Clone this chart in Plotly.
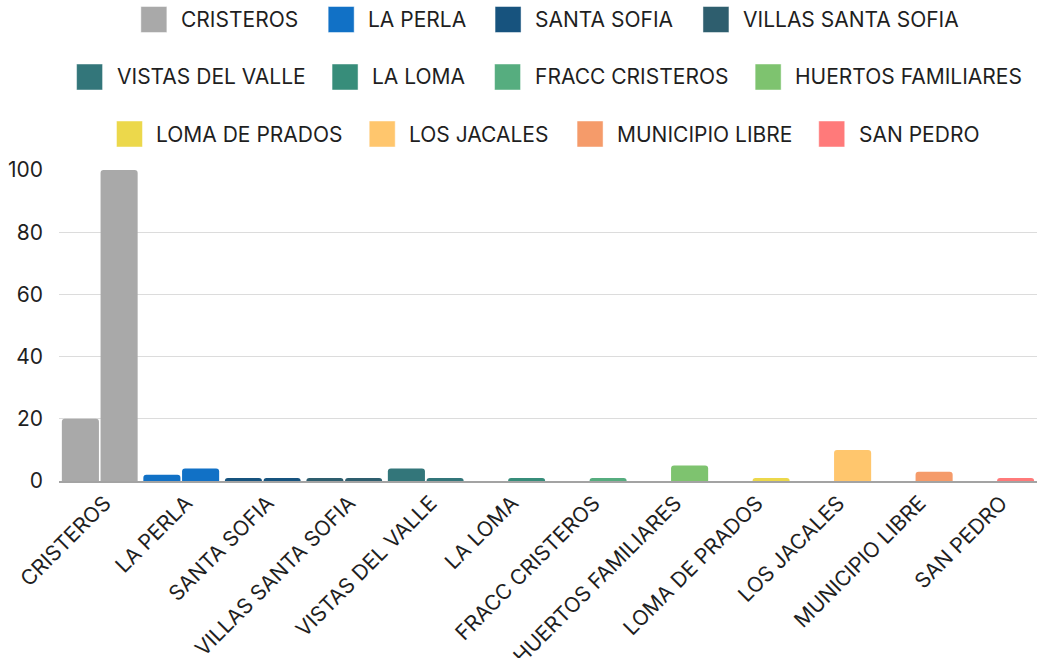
import plotly.graph_objects as go

# ---------------- data ----------------
categories = ["CRISTEROS", "LA PERLA", "SANTA SOFIA", "VILLAS SANTA SOFIA",
              "VISTAS DEL VALLE", "LA LOMA", "FRACC CRISTEROS", "HUERTOS FAMILIARES",
              "LOMA DE PRADOS", "LOS JACALES", "MUNICIPIO LIBRE", "SAN PEDRO"]
first_values = [20, 2, 1, 1, 4, 0, 0, 0, 0, 0, 0, 0]
second_values = [100, 4, 1, 1, 1, 1, 1, 5, 1, 10, 3, 1]
colors = ["#a9a9a9", "#1171c6", "#17537e", "#2e5e6e", "#33767a", "#378d7a",
          "#56ad7f", "#7ec36f", "#ecd84b", "#ffc66d", "#f59b6a", "#ff7a7a"]
y_ticks = [0, 20, 40, 60, 80, 100]
legend_rows = [[0, 1, 2, 3], [4, 5, 6, 7], [8, 9, 10, 11]]

# ---------------- geometry ----------------
W, H = 1038, 658
ML, MR, MT, MB = 59, 1, 169, 177
PW, PH = W - ML - MR, H - MT - MB
FONT = "Inter"
TXT = "#1f1f1f"

fig = go.Figure()
for i, cat in enumerate(categories):
    fig.add_trace(go.Bar(
        x=[cat, cat], y=[first_values[i], second_values[i]],
        offset=[-0.465, 0.01], width=[0.455, 0.455],
        marker=dict(color=colors[i], line=dict(width=0), cornerradius=3),
        name=cat, showlegend=False, hoverinfo="skip",
    ))

# ---------------- custom legend ----------------
EM = {'A': .681, 'B': .646, 'C': .720, 'D': .713, 'E': .578, 'F': .560, 'G': .741,
      'H': .740, 'I': .264, 'J': .524, 'K': .656, 'L': .532, 'M': .882, 'N': .748,
      'O': .764, 'P': .635, 'Q': .764, 'R': .648, 'S': .638, 'T': .635, 'U': .730,
      'V': .681, 'W': 1.0, 'X': .66, 'Y': .66, 'Z': .62, ' ': .25}
FS = 21


def tw(s):
    return sum(EM.get(c, .6) for c in s) * FS * 0.975


SW, GAP_T, GAP_I = 26, 13, 35
row_y = [19.5, 77, 134]
center_x = 545


def px2x(x):
    return (x - ML) / PW


def px2y(y):
    return (MT + PH - y) / PH


shapes, annotations = [], []
for r, row in enumerate(legend_rows):
    widths = [SW + GAP_T + tw(categories[i]) for i in row]
    total = sum(widths) + GAP_I * (len(row) - 1)
    x = center_x - total / 2
    yc = row_y[r]
    for k, i in enumerate(row):
        shapes.append(dict(type="rect", xref="paper", yref="paper",
                           x0=px2x(x), x1=px2x(x + SW),
                           y0=px2y(yc + SW / 2), y1=px2y(yc - SW / 2),
                           fillcolor=colors[i], line=dict(width=0.8, color="rgba(255,255,255,0.6)")))
        annotations.append(dict(xref="paper", yref="paper", x=px2x(x + SW + GAP_T - 1),
                                y=px2y(yc), xanchor="left", yanchor="middle",
                                text=categories[i], showarrow=False,
                                font=dict(family=FONT, size=FS, color=TXT)))
        x += widths[k] + GAP_I

fig.update_layout(
    width=W, height=H,
    margin=dict(l=ML, r=MR, t=MT, b=MB),
    paper_bgcolor="white", plot_bgcolor="white",
    font=dict(family=FONT, size=20, color=TXT),
    barmode="overlay",
    showlegend=False,
    hovermode=False,
    shapes=shapes, annotations=annotations,
    xaxis=dict(type="category", range=[-0.5, len(categories) - 0.5],
               tickangle=-45, showgrid=False, zeroline=False,
               showline=True, linecolor="#a3a3a3", linewidth=1.5,
               ticks="", automargin=False, ticklabelshift=5,
               tickfont=dict(size=21, color=TXT)),
    yaxis=dict(range=[0, 100.3], tickvals=y_ticks, showgrid=True,
               gridcolor="#dcdcdc", gridwidth=1, zeroline=False, showline=False,
               ticks="", ticklabelstandoff=15, automargin=False,
               tickfont=dict(size=21, color=TXT)),
)

fig.write_html("out.html", config={"displayModeBar": False, "staticPlot": True},
               post_script="document.body.style.margin='0';document.body.style.padding='0';")
